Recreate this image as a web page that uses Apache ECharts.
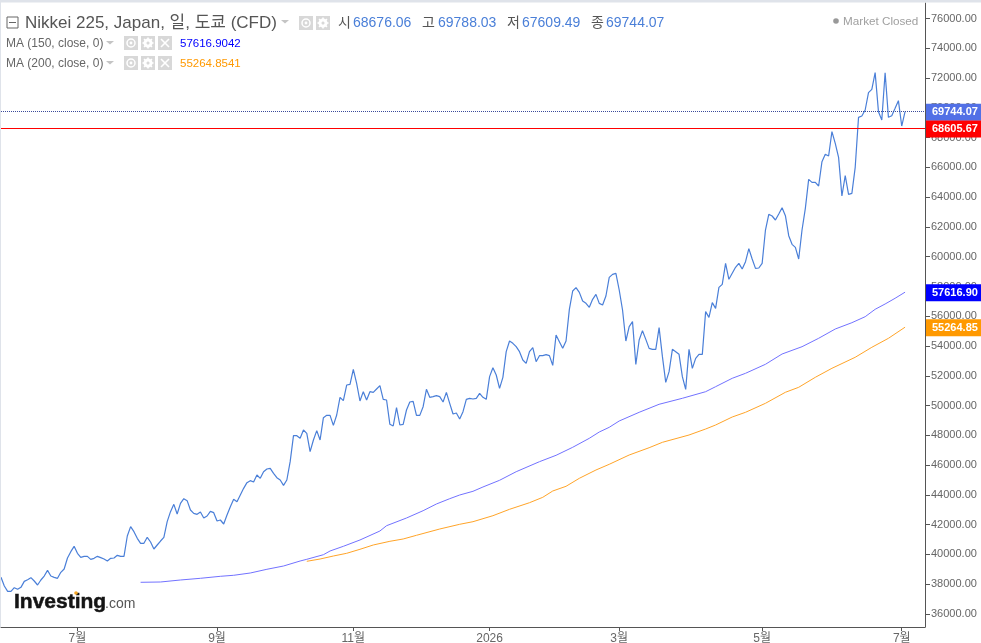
<!DOCTYPE html>
<html><head><meta charset="utf-8">
<style>html,body{margin:0;padding:0;background:#fff}#c{width:981px;height:643px}</style>
<script src="https://cdn.jsdelivr.net/npm/echarts@6/dist/echarts.min.js"></script>
</head><body><div id="c"></div>
<script>
const priceValues = [38463,37881,37523,37523,37769,37657,37791,38194,38306,38441,38217,37948,38284,38552,38933,38552,38463,38396,38799,39023,39762,40187,40545,40075,39806,39873,39873,39672,39739,39873,39784,39694,39560,39739,39762,39941,39873,39873,41239,41866,41530,41083,40747,40747,41150,40836,40366,40635,40903,41150,42202,42874,43366,42717,43433,43747,43613,42986,42762,42695,42851,42448,42583,42896,42807,42247,42314,42045,42650,43210,43702,43545,43993,44441,44822,44956,44866,
45337,45113,45561,45740,45784,45449,45158,45001,44643,45001,46232,47979,47979,47800,48359,48135,46904,
47688,48315,47688,49188,49344,49344,48673,49367,50554,50330,51382,51427,52434,51494,50307,50934,50374,50934,50889,51113,51337,50419,50374,48740,48628,49859,48695,48740,49703,50240,50285,49344,49344,49927,51091,50554,50598,50665,50598,50240,50889,50150,49434,49501,49098,49591,50419,50486,50442,50486,50822,50554,50419,51942,52546,52054,51158,51897,53621,54337,54181,53957,53621,
53061,52837,53621,53890,52949,53352,53352,53419,53352,52703,54740,54293,53845,54337,56464,57696,57920,57606,57024,56867,56599,57136,57472,56867,56756,57360,58614,58815,58883,57763,56420,54337,55300,55636,52770,54405,55032,54449,53845,53778,53778,55233,53285,51561,52277,53778,53621,53442,51942,51091,53778,52501,53173,53442,53442,56308,55927,56912,56532,57942,58144,59554,58480,58883,59286,59554,
59174,59666,60539,59845,59218,59241,59554,61793,62846,62734,62465,62868,63293,62756,61413,60831,60629,59845,61793,63249,65197,64995,64995,64749,66383,66876,66764,68398,67615,66674,64077,65443,64189,64256,66003,69361,69451,69854,71018,71242,72361,69742,69181,72361,69361,69473,69966,70481,68778,69744.07];
const ma150Index = [42,48,54,60,66,70,75,80,85,90,92,97,99,103,108,114,116,122,127,131,135,138,142,145,150,155,162,167,172,177,180,183,186,192,198,205,212,215,220,224,230,235,241,246,251,256,260,263,266,269,272];
const ma150Values = [38129,38150,38284,38398,38532,38600,38754,39003,39224,39560,39674,39983,40232,40547,40971,41575,41931,42448,42939,43389,43745,43993,44242,44531,44981,45558,46230,46660,47197,47802,48225,48541,48964,49548,50086,50489,50932,51268,51832,52168,52773,53464,53955,54519,55143,55567,55970,56467,56823,57206,57616.9];
const ma200Index = [92,96,100,104,108,112,117,121,125,132,138,142,148,153,159,163,166,170,174,179,183,189,195,199,207,212,215,220,224,230,236,240,245,250,257,262,267,272];
const ma200Values = [39540,39694,39896,40077,40346,40635,40883,41038,41286,41709,42025,42200,42603,43033,43476,43839,44262,44578,45115,45672,46055,46680,47170,47533,48023,48426,48695,49232,49548,50153,50892,51227,51899,52504,53243,53914,54519,55264.85];
const xTickIndex = [23,65,106,147,186,229,271];
const xTickLabels = ['7월','9월','11월','2026','3월','5월','7월'];
const yTickValues = [36000,38000,40000,42000,44000,46000,48000,50000,52000,54000,56000,58000,60000,62000,64000,66000,68000,70000,72000,74000,76000];
const lastClose = 69744.07, hLine = 68605.67, ma150Last = 57616.90, ma200Last = 55264.85;
const ohlc = [['시','68676.06',338,353],['고','69788.03',422,438],['저','67609.49',507,522],['종','69744.07',591,606]];

const categories = Array.from({length:279},(_,i)=>{const k=xTickIndex.indexOf(i);return k>=0?xTickLabels[k]:'';});
const pair=(ix,v)=>ix.map((d,i)=>[d,v[i]]);
const FONT='"Liberation Sans","Noto Sans CJK KR",Arial,sans-serif';
const g=[];
const txt=(x,y,s,fill,size,extra={})=>g.push({type:'text',silent:true,z:20,x,y,style:Object.assign({text:s,fill,font:(extra.weight||'normal')+' '+size+'px '+FONT,textVerticalAlign:'middle',textAlign:extra.align||'left'},extra.stroke?{stroke:extra.stroke,lineWidth:extra.lw}:{})});
const rect=(x,y,w,h,fill,z=20)=>g.push({type:'rect',silent:true,z,shape:{x,y,width:w,height:h},style:{fill}});
const ln=(x1,y1,x2,y2,stroke,w=1.2)=>g.push({type:'line',silent:true,z:21,shape:{x1,y1,x2,y2},style:{stroke,lineWidth:w}});
const tri=(x,y)=>g.push({type:'polygon',silent:true,z:20,shape:{points:[[x,y],[x+8,y],[x+4,y+3.5]]},style:{fill:'#c4c4c4'}});
const circ=(cx,cy,r,style)=>g.push({type:'circle',silent:true,z:21,shape:{cx,cy,r},style});
const eye=(x,y)=>{rect(x,y,14,14,'#d8d8d8');circ(x+7,y+7,4,{fill:'none',stroke:'#fff',lineWidth:1.5});circ(x+7,y+7,1.4,{fill:'#fff'});};
const gear=(x,y)=>{rect(x,y,14,14,'#d8d8d8');circ(x+7,y+7,3.4,{fill:'none',stroke:'#fff',lineWidth:2.2});
  ln(x+7,y+1.5,x+7,y+12.5,'#fff',1.6);ln(x+1.5,y+7,x+12.5,y+7,'#fff',1.6);ln(x+3,y+3,x+11,y+11,'#fff',1.4);ln(x+11,y+3,x+3,y+11,'#fff',1.4);circ(x+7,y+7,1.5,{fill:'#d8d8d8'});};
const cross=(x,y)=>{rect(x,y,14,14,'#d8d8d8');ln(x+3,y+3,x+11,y+11,'#fff',1.6);ln(x+11,y+3,x+3,y+11,'#fff',1.6);};

rect(0,0,981,2.5,'#dfe3ea',5);rect(0,0,1,627,'#dfe3ea',5);
g.push({type:'rect',silent:true,z:20,shape:{x:7,y:17,width:11,height:11},style:{fill:'none',stroke:'#666',lineWidth:1}});
ln(9,22.5,16,22.5,'#666',1);
txt(25,23.5,'Nikkei 225, Japan, 일, 도쿄 (CFD)','#555',17);
tri(281,20);eye(299,16);gear(316,16);
ohlc.forEach(r=>{txt(r[2],23.5,r[0],'#555',14);txt(r[3],23.5,r[1],'#4a7fd8',14);});
circ(836,21,2.8,{fill:'#999'});
txt(843,22,'Market Closed','#a0a0a0',11.7);
[[43,'MA (150, close, 0)','57616.9042','#0000ff'],[63,'MA (200, close, 0)','55264.8541','#ff9900']].forEach(r=>{
  txt(6,r[0]+1,r[1],'#666',12);tri(106,r[0]-2);eye(124,r[0]-7);gear(141,r[0]-7);cross(158,r[0]-7);txt(180,r[0]+1,r[2],r[3],11.5);
});
txt(14,602.5,'Investing','#141414',21,{weight:'bold',stroke:'#141414',lw:0.5});
txt(105,604,'.com','#555',14);
circ(76,593,1.8,{fill:'#f5a623'});

const tag=(v,bg)=>({yAxis:v,label:{show:true,position:'end',distance:1,offset:[0,0.5],formatter:v.toFixed(2),color:'#fff',fontWeight:'bold',fontSize:11,fontFamily:FONT,backgroundColor:bg,padding:[4,3,1,6],width:46,lineHeight:12}});
const hidden={color:'rgba(0,0,0,0)',width:1};
const chart=echarts.init(document.getElementById('c'),null,{renderer:'canvas'});
chart.setOption({
  animation:false,
  backgroundColor:'#fff',
  grid:{left:1,right:56,top:3,bottom:16,containLabel:false,outerBoundsMode:'none'},
  xAxis:{type:'category',data:categories,boundaryGap:false,
    axisLine:{lineStyle:{color:'#555',width:1}},
    axisTick:{customValues:xTickIndex,length:4,lineStyle:{color:'#555'},alignWithLabel:true},
    axisLabel:{customValues:xTickIndex,color:'#666',fontSize:12,fontFamily:FONT,margin:6,hideOverlap:false,
      formatter:(v,i)=>typeof v==='string'&&v?v:categories[v]},
    splitLine:{show:false}},
  yAxis:{type:'value',position:'right',min:35127,max:77041,
    axisLine:{show:true,lineStyle:{color:'#555',width:1}},
    axisTick:{show:true,customValues:yTickValues,length:5,lineStyle:{color:'#555'}},
    axisLabel:{customValues:yTickValues,color:'#666',fontSize:11,fontFamily:FONT,margin:6,padding:[2,0,0,0],formatter:v=>v.toFixed(2)},
    splitLine:{show:false}},
  series:[
    {name:'MA150',type:'line',data:pair(ma150Index,ma150Values),symbol:'none',lineStyle:{color:'#7272ff',width:1},z:3,
      markLine:{silent:true,symbol:'none',lineStyle:hidden,data:[Object.assign(tag(ma150Last,'#0000ff'),{lineStyle:hidden})]}},
    {name:'MA200',type:'line',data:pair(ma200Index,ma200Values),symbol:'none',lineStyle:{color:'#ffa428',width:1},z:3,
      markLine:{silent:true,symbol:'none',lineStyle:hidden,data:[Object.assign(tag(ma200Last,'#ff9900'),{lineStyle:hidden})]}},
    {name:'Nikkei 225',type:'line',data:priceValues,symbol:'none',lineStyle:{color:'#4a7fd8',width:1.2},z:4,
      markLine:{silent:true,symbol:'none',data:[
        Object.assign(tag(lastClose,'#5270e6'),{lineStyle:{color:'#3a4a9a',type:[1,1],width:1}}),
        Object.assign(tag(hLine,'#ff0000'),{lineStyle:{color:'#ff0000',type:'solid',width:1}})
      ]}}
  ],
  graphic:g
});
</script></body></html>
